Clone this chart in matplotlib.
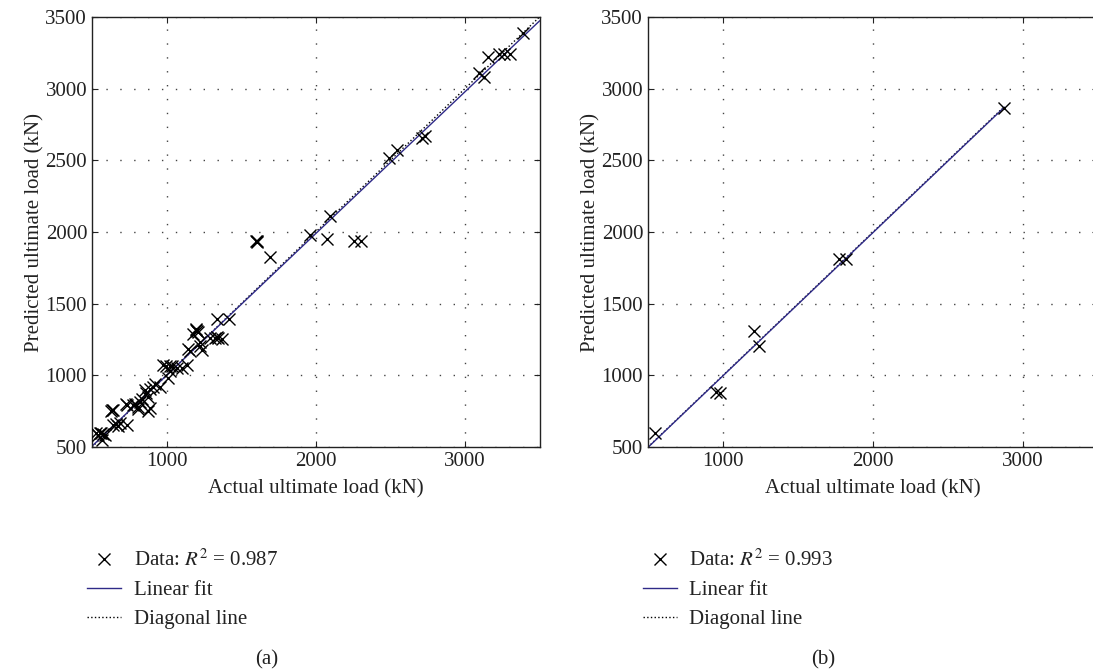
import matplotlib
matplotlib.use("Agg")
import matplotlib.pyplot as plt
import numpy as np

plt.rcParams["font.family"] = ["Liberation Serif", "DejaVu Serif"]
plt.rcParams["mathtext.fontset"] = "stix"

# panel (a): all specimens
actual_a = [3389, 3152, 3226, 3260, 3304, 3092, 3130, 2711, 2734, 2494, 2548,
            2096, 1962, 2074, 2257, 2302, 1604, 1600, 1608, 1694,
            1340, 1421, 1195, 1200, 1203, 1213, 1179, 1157, 1146, 1224, 1235, 1224,
            1291, 1324, 1347, 1369, 1335,
            978, 995, 1034, 1022, 1067, 1101, 1134, 1011, 1022,
            955, 922, 911, 888, 865, 855, 877, 832, 821, 787, 776, 731, 732, 810, 809, 877, 888,
            631, 640, 630, 687, 675, 732, 642, 660,
            553, 586, 564, 530, 540, 563, 575]
predicted_a = [3390, 3220, 3239, 3239, 3239, 3106, 3083, 2657, 2668, 2517, 2570,
               2109, 1981, 1953, 1935, 1935, 1935, 1938, 1932, 1823,
               1392, 1392, 1322, 1318, 1310, 1299, 1290, 1171, 1182, 1236, 1178, 1206,
               1260, 1260, 1258, 1253, 1265,
               1069, 1065, 1065, 1062, 1054, 1054, 1069, 980, 1030,
               922, 937, 922, 902, 879, 899, 852, 832, 817, 797, 794, 797, 794, 782, 762, 750, 771,
               759, 755, 750, 666, 645, 654, 654, 660,
               596, 584, 549, 596, 586, 598, 590]
r2_a = 0.987
fit_a = (0.989, 11.0)          # slope, intercept
fit_range_a = (500, 3500)

# panel (b): test specimens
actual_b = [549, 955, 978, 1208, 1239, 1770, 1821, 2875]
predicted_b = [601, 887, 880, 1311, 1206, 1811, 1811, 2866]
r2_b = 0.993
fit_b = (0.999, -2.0)
fit_range_b = (500, 2875)

fit_color = "#2f2a88"
txt = "#222222"

fig = plt.figure(figsize=(10.93, 6.72), dpi=100)
W, H = 1093.0, 672.0
ax_a = fig.add_axes([92 / W, 1 - 447 / H, 447.5 / W, 430 / H])
ax_b = fig.add_axes([648 / W, 1 - 447 / H, 450 / W, 430 / H])


def draw_panel(ax, xs, ys, r2, fit, fit_range, tag):
    x0, x1 = fit_range
    xf = np.array([x0, x1])
    ax.plot(xs, ys, "x", color="black", markersize=9, markeredgewidth=1.0,
            label=r"Data: $R^2$ = %.3f" % r2, zorder=3)
    ax.plot(xf, fit[0] * xf + fit[1], "-", color=fit_color, lw=1.0,
            label="Linear fit", zorder=2)
    ax.plot(xf, xf, ":", color="black", lw=1.0, label="Diagonal line", zorder=1)

    ax.set_xlim(500, 3500)
    ax.set_ylim(500, 3500)
    ax.set_xticks([1000, 2000, 3000])
    ax.set_yticks(np.arange(500, 3501, 500))
    ax.grid(True, linestyle=(0, (1, 9)), color="#444444", lw=1.0)
    ax.tick_params(direction="in", top=True, right=True, length=4,
                   labelsize=15, colors=txt)
    for s in ax.spines.values():
        s.set_color(txt)
        s.set_linewidth(1.0)
    ax.set_xlabel("Actual ultimate load (kN)", fontsize=15, color=txt, labelpad=6)
    ax.set_ylabel("Predicted ultimate load (kN)", fontsize=15, color=txt, labelpad=1)

    leg = ax.legend(loc="upper left", bbox_to_anchor=(-0.012, -0.239), frameon=False,
                    fontsize=15, borderpad=0, borderaxespad=0, handlelength=1.65,
                    handletextpad=0.6, labelspacing=0.45)
    for t in leg.get_texts():
        t.set_color(txt)
    ax.text(0.39, -0.495, tag, transform=ax.transAxes, ha="center", va="center",
            fontsize=15, color=txt)


draw_panel(ax_a, actual_a, predicted_a, r2_a, fit_a, fit_range_a, "(a)")
draw_panel(ax_b, actual_b, predicted_b, r2_b, fit_b, fit_range_b, "(b)")

fig.savefig("out.png", dpi=100)
